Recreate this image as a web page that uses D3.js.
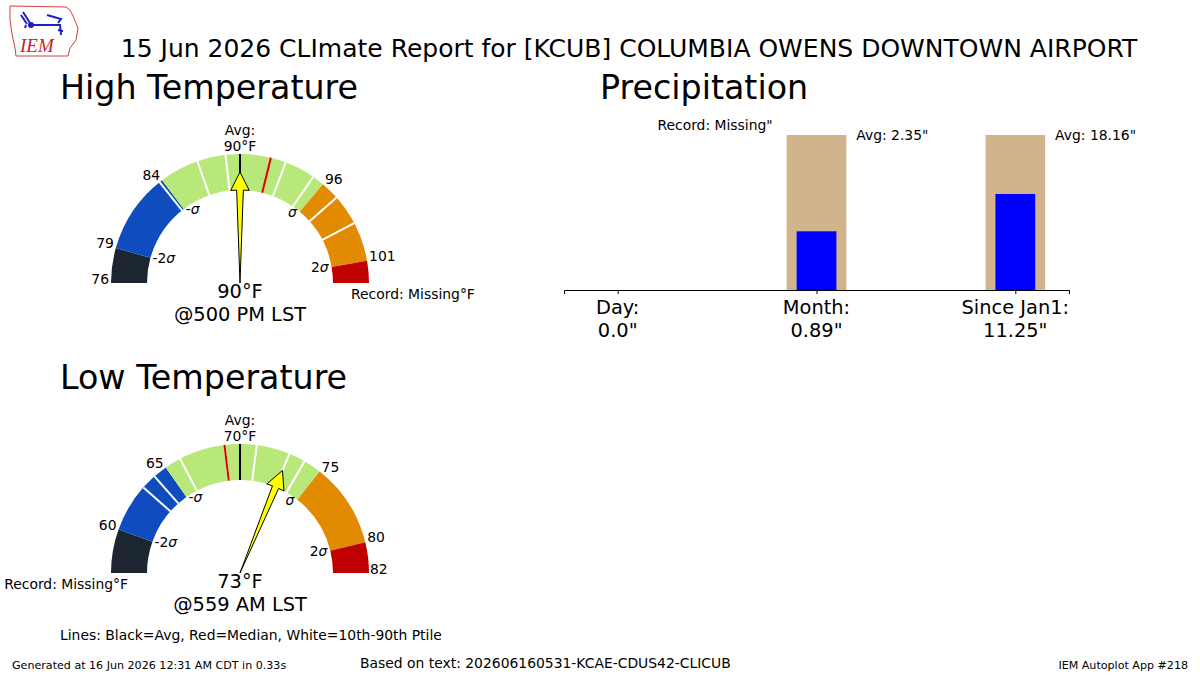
<!DOCTYPE html>
<html>
<head>
<meta charset="utf-8">
<script src="https://cdn.jsdelivr.net/npm/d3@7"></script>
<style>
    body { margin: 0; background: #fff; }
    text { font-family: "DejaVu Sans", sans-serif; fill: #000; }
</style>
</head>
<body>
<svg id="chart" width="1200" height="675"></svg>
<script>
// ---- data ----
const reportTitle = '15 Jun 2026 CLImate Report for [KCUB] COLUMBIA OWENS DOWNTOWN AIRPORT';

// high temperature gauge
const highEnds = [76, 103];
const highEndLabels = ['76', null]; // null = record missing
const highAvg = 90;
const highSigma = 5.78;
const highSigmaLabels = ['79', '84', '96', '101'];
const highPctiles = [84, 87, 89, 90, 93, 95, 97, 99]; // 10,20,30,40,60,70,80,90th
const highMedian = 92;
const highObs = 90;
const highTime = '@500 PM LST';

// low temperature gauge
const lowEnds = [57, 82];
const lowEndLabels = [null, '82'];
const lowAvg = 70;
const lowSigma = 5.08;
const lowSigmaLabels = ['60', '65', '75', '80'];
const lowPctiles = [63, 64, 66, 69, 71, 73, 74, 74];
const lowMedian = 69;
const lowObs = 73;
const lowTime = '@559 AM LST';

// precipitation
const precipCats = ['Day:', 'Month:', 'Since Jan1:'];
const precipObs = [0.0, 0.89, 11.25];
const precipObsLabels = ['0.0"', '0.89"', '11.25"'];
const precipAvg = [null, 2.35, 18.16];
const precipRecordLabel = 'Record: Missing"';

const bandColors = ['#1c2630', '#0f4dbf', '#b7e879', '#e38a03', '#c00000'];

// font sizes (pt at 100 dpi)
const fSmall = '13.9px';
const fMid = '19.4px';
const fTitle = '25px';
const fPanel = '33.3px';
const fFoot = '11.1px';

const svg = d3.select('#chart');

// ---- header / logo ----
const logo = svg.append('g').attr('class', 'logo');
logo.append('path')
    .attr('d', 'M10,6 L66,7 L70,10 L73,16 L78,28 L76,40 L70,48 L68,56 L16,56 L15,48 L12,34 L10,20 Z')
    .attr('fill', 'none')
    .attr('stroke', '#d04040')
    .attr('stroke-width', 1);
logo.append('path')
    .attr('d', 'M31,25 L61,25 M23,12 L30,23 M21,15 L27,24 M47,15 L61,19 L58,23 M60,25 L61,35 M58,30 L63,31 M25,28 l1,-3')
    .attr('fill', 'none')
    .attr('stroke', '#1f1fc0')
    .attr('stroke-width', 2);
logo.append('circle').attr('cx', 31).attr('cy', 25).attr('r', 3).attr('fill', '#1f1fc0');
logo.append('text')
    .attr('x', 20).attr('y', 52)
    .style('font-family', '"Liberation Serif", serif')
    .style('font-style', 'italic')
    .style('font-size', '19px')
    .style('fill', '#d02020')
    .text('IEM');

svg.append('text')
    .attr('x', 629).attr('y', 57)
    .attr('text-anchor', 'middle')
    .style('font-size', fTitle)
    .text(reportTitle);

const titles = [['High Temperature', 60, 99], ['Precipitation', 600, 99], ['Low Temperature', 60, 389]];
svg.selectAll('text.panel-title')
    .data(titles)
    .join('text')
    .classed('panel-title', true)
    .attr('x', d => d[1])
    .attr('y', d => d[2])
    .style('font-size', fPanel)
    .text(d => d[0]);

// ---- gauges ----
const rIn = 93;
const rOut = 129;

function sigmaText(sel, prefix) {
    sel.append('tspan').text(prefix);
    sel.append('tspan').style('font-style', 'italic').text('σ');
}

function drawGauge(cx, cy, cfg) {
    const g = svg.append('g').attr('transform', `translate(${cx},${cy})`);
    // left half spans [min, avg], right half spans [avg, max]
    const angle = d3.scaleLinear()
        .domain([cfg.ends[0], cfg.avg, cfg.ends[1]])
        .range([-Math.PI / 2, 0, Math.PI / 2]);
    const pt = (v, r) => [r * Math.sin(angle(v)), -r * Math.cos(angle(v))];

    const bounds = [
        cfg.ends[0],
        cfg.avg - 2 * cfg.sigma,
        cfg.avg - cfg.sigma,
        cfg.avg + cfg.sigma,
        cfg.avg + 2 * cfg.sigma,
        cfg.ends[1]
    ];
    const arc = d3.arc().innerRadius(rIn).outerRadius(rOut);

    g.selectAll('path.band')
        .data(d3.pairs(bounds))
        .join('path')
        .classed('band', true)
        .attr('d', d => arc({ startAngle: angle(d[0]), endAngle: angle(d[1]) }))
        .attr('fill', (d, i) => bandColors[i]);

    const tick = (v, color) =>
        g.append('line')
            .attr('x1', pt(v, rIn)[0]).attr('y1', pt(v, rIn)[1])
            .attr('x2', pt(v, rOut)[0]).attr('y2', pt(v, rOut)[1])
            .attr('stroke', color)
            .attr('stroke-width', 2);

    cfg.pctiles.forEach(v => tick(v, '#fff'));
    tick(cfg.median, '#e00000');
    tick(cfg.avg, '#000');

    // value labels at the sigma boundaries
    const sigmaBounds = bounds.slice(1, 5);
    sigmaBounds.forEach((v, i) => {
        const [x, y] = pt(v, rOut);
        const left = i < 2;
        g.append('text')
            .attr('x', left ? x - 2 : x + 2)
            .attr('y', y)
            .attr('text-anchor', left ? 'end' : 'start')
            .style('font-size', fSmall)
            .text(cfg.sigmaLabels[i]);

        const [xi, yi] = pt(v, rIn);
        const s = g.append('text')
            .attr('x', left ? xi + 2 : xi - 3)
            .attr('y', yi)
            .attr('dy', '0.35em')
            .attr('text-anchor', left ? 'start' : 'end')
            .style('font-size', fSmall);
        sigmaText(s, ['-2', '-', '', '2'][i]);
    });

    // gauge ends: value or missing record
    cfg.endLabels.forEach((lab, i) => {
        const left = i === 0;
        const x = left ? -rOut : rOut;
        if (lab !== null)
            g.append('text')
                .attr('x', left ? x - 2 : x + 1)
                .attr('y', 1)
                .attr('text-anchor', left ? 'end' : 'start')
                .style('font-size', fSmall)
                .text(lab);
        else
            g.append('text')
                .attr('x', left ? x + 17 : x - 18)
                .attr('y', 16)
                .attr('text-anchor', left ? 'end' : 'start')
                .style('font-size', fSmall)
                .text('Record: Missing°F');
    });

    // average label on top
    g.append('text')
        .attr('x', 0).attr('y', -rOut - 19)
        .attr('text-anchor', 'middle')
        .style('font-size', fSmall)
        .text('Avg:');
    g.append('text')
        .attr('x', 0).attr('y', -rOut - 3)
        .attr('text-anchor', 'middle')
        .style('font-size', fSmall)
        .text(`${cfg.avg}°F`);

    // needle (wedge shaft like a polar arrow)
    const a = angle(cfg.obs);
    const p = (da, r) => [r * Math.sin(a + da), -r * Math.cos(a + da)];
    const needle = [[0, 0], p(-0.036, 93), p(-0.1, 93), p(0, 111), p(0.1, 93), p(0.036, 93)];
    g.append('polygon')
        .attr('points', needle.map(d => d.join(',')).join(' '))
        .attr('fill', '#ffff00')
        .attr('stroke', '#000')
        .attr('stroke-width', 1)
        .attr('stroke-linejoin', 'miter');

    g.append('text')
        .attr('x', 0).attr('y', 15)
        .attr('text-anchor', 'middle')
        .style('font-size', fMid)
        .text(`${cfg.obs}°F`);
    g.append('text')
        .attr('x', 0).attr('y', 38)
        .attr('text-anchor', 'middle')
        .style('font-size', fMid)
        .text(cfg.time);
}

drawGauge(240, 283, {
    ends: highEnds, endLabels: highEndLabels, avg: highAvg, sigma: highSigma,
    sigmaLabels: highSigmaLabels, pctiles: highPctiles, median: highMedian,
    obs: highObs, time: highTime
});
drawGauge(240, 573, {
    ends: lowEnds, endLabels: lowEndLabels, avg: lowAvg, sigma: lowSigma,
    sigmaLabels: lowSigmaLabels, pctiles: lowPctiles, median: lowMedian,
    obs: lowObs, time: lowTime
});

// ---- precipitation bars (normalised by the average) ----
const x = d3.scaleLinear().domain([-0.27, 2.27]).range([564, 1069]);
const y = d3.scaleLinear().domain([0, 1]).range([290, 135]);
const pg = svg.append('g');

const idx = d3.range(precipCats.length);
const withAvg = idx.filter(i => precipAvg[i] !== null);

pg.selectAll('rect.avg')
    .data(withAvg)
    .join('rect')
    .classed('avg', true)
    .attr('x', i => x(i - 0.15))
    .attr('width', x(0.3) - x(0))
    .attr('y', y(1))
    .attr('height', y(0) - y(1))
    .attr('fill', '#d2b48c');

pg.selectAll('rect.obs')
    .data(withAvg)
    .join('rect')
    .classed('obs', true)
    .attr('x', i => x(i - 0.1))
    .attr('width', x(0.2) - x(0))
    .attr('y', i => y(precipObs[i] / precipAvg[i]))
    .attr('height', i => y(0) - y(precipObs[i] / precipAvg[i]))
    .attr('fill', '#0000ff');

pg.selectAll('text.avg-label')
    .data(withAvg)
    .join('text')
    .classed('avg-label', true)
    .attr('x', i => x(i + 0.2))
    .attr('y', y(1))
    .attr('dy', '0.35em')
    .style('font-size', fSmall)
    .text(i => `Avg: ${precipAvg[i].toFixed(2)}"`);

pg.append('text')
    .attr('x', x(0.2))
    .attr('y', y(1.065))
    .attr('dy', '0.35em')
    .style('font-size', fSmall)
    .text(precipRecordLabel);

const axis = pg.append('g')
    .attr('transform', `translate(0,${y(0)})`)
    .call(d3.axisBottom(x).tickValues(idx).tickFormat('').tickSizeOuter(0).tickSize(4));
axis.select('.domain').attr('stroke', '#000');
axis.selectAll('.tick line').attr('stroke', '#000');

idx.forEach(i => {
    const t = pg.append('text')
        .attr('x', x(i))
        .attr('y', 314)
        .attr('text-anchor', 'middle')
        .style('font-size', fMid);
    t.append('tspan').attr('x', x(i)).text(precipCats[i]);
    t.append('tspan').attr('x', x(i)).attr('dy', 23).text(precipObsLabels[i]);
});

// ---- footer ----
svg.append('text')
    .attr('x', 60).attr('y', 640)
    .style('font-size', fSmall)
    .text('Lines: Black=Avg, Red=Median, White=10th-90th Ptile');
svg.append('text')
    .attr('x', 12).attr('y', 669)
    .style('font-size', fFoot)
    .text('Generated at 16 Jun 2026 12:31 AM CDT in 0.33s');
svg.append('text')
    .attr('x', 360).attr('y', 668)
    .style('font-size', fSmall)
    .text('Based on text: 202606160531-KCAE-CDUS42-CLICUB');
svg.append('text')
    .attr('x', 1188).attr('y', 669)
    .attr('text-anchor', 'end')
    .style('font-size', fFoot)
    .text('IEM Autoplot App #218');
</script>
</body>
</html>
